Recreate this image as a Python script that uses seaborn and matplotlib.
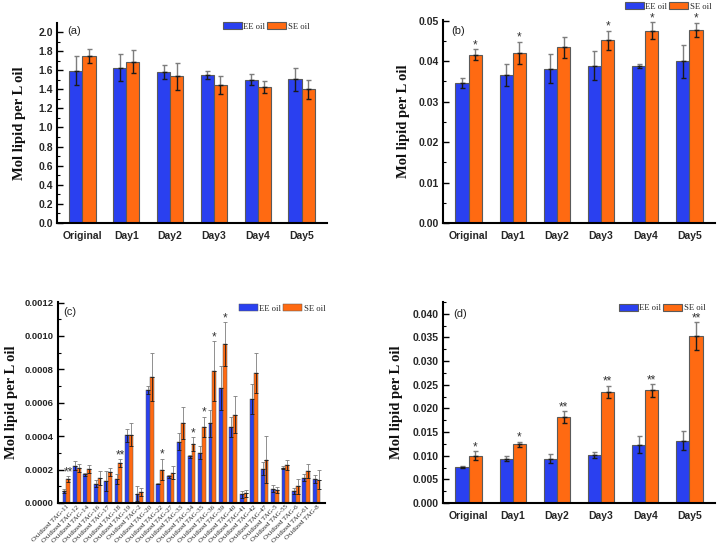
import numpy as np
import pandas as pd
import matplotlib
matplotlib.use("Agg")
import matplotlib.pyplot as plt
import seaborn as sns
from matplotlib.ticker import MultipleLocator, FormatStrFormatter

# ---------------- data ----------------
days = ["Original", "Day1", "Day2", "Day3", "Day4", "Day5"]
series = ["EE oil", "SE oil"]

a_ee = [1.595, 1.627, 1.585, 1.550, 1.501, 1.504]
a_ee_err = [0.150, 0.138, 0.073, 0.042, 0.056, 0.119]
a_se = [1.749, 1.689, 1.536, 1.445, 1.424, 1.400]
a_se_err = [0.077, 0.122, 0.143, 0.098, 0.063, 0.100]
a_marks = ["", "", "", "", "", ""]

b_ee = [0.0346, 0.0366, 0.0381, 0.0389, 0.0389, 0.0400]
b_ee_err = [0.0012, 0.0028, 0.0036, 0.0036, 0.0005, 0.0041]
b_se = [0.0416, 0.0421, 0.0434, 0.0452, 0.0475, 0.0478]
b_se_err = [0.0014, 0.0027, 0.0025, 0.0024, 0.0021, 0.0017]
b_marks = ["*", "*", "", "*", "*", "*"]

c_tags = ["Oxidized TAG-11", "Oxidized TAG-12", "Oxidized TAG-14", "Oxidized TAG-16",
          "Oxidized TAG-17", "Oxidized TAG-18", "Oxidized TAG-19", "Oxidized TAG-2",
          "Oxidized TAG-20", "Oxidized TAG-22", "Oxidized TAG-27", "Oxidized TAG-33",
          "Oxidized TAG-34", "Oxidized TAG-35", "Oxidized TAG-36", "Oxidized TAG-39",
          "Oxidized TAG-40", "Oxidized TAG-41", "Oxidized TAG-42", "Oxidized TAG-47",
          "Oxidized TAG-5", "Oxidized TAG-55", "Oxidized TAG-6", "Oxidized TAG-61",
          "Oxidized TAG-8"]
c_ee = [0.000072, 0.000224, 0.000172, 0.000116, 0.000132, 0.000142, 0.000404, 0.000054,
        0.000678, 0.000116, 0.000160, 0.000366, 0.000280, 0.000302, 0.000476, 0.000688,
        0.000456, 0.000052, 0.000624, 0.000206, 0.000086, 0.000212, 0.000072, 0.000152,
        0.000144]
c_ee_err = [0.000014, 0.000028, 0.000010, 0.000020, 0.000060, 0.000030, 0.000040, 0.000045,
            0.000025, 0.000005, 0.000010, 0.000050, 0.000008, 0.000040, 0.000080, 0.000130,
            0.000060, 0.000020, 0.000090, 0.000040, 0.000020, 0.000010, 0.000020, 0.000020,
            0.000022]
c_se = [0.000144, 0.000208, 0.000204, 0.000148, 0.000186, 0.000238, 0.000408, 0.000064,
        0.000754, 0.000200, 0.000182, 0.000480, 0.000354, 0.000456, 0.000788, 0.000952,
        0.000528, 0.000058, 0.000778, 0.000260, 0.000078, 0.000230, 0.000100, 0.000192,
        0.000140]
c_se_err = [0.000016, 0.000025, 0.000025, 0.000043, 0.000025, 0.000025, 0.000068, 0.000025,
            0.000145, 0.000065, 0.000040, 0.000094, 0.000040, 0.000060, 0.000180, 0.000130,
            0.000110, 0.000020, 0.000120, 0.000140, 0.000018, 0.000030, 0.000045, 0.000040,
            0.000055]
c_marks = ["**", "", "", "", "", "**", "", "", "", "*", "", "", "*", "*", "*", "*",
           "", "", "", "", "", "", "", "", ""]

d_ee = [0.0076, 0.0094, 0.0094, 0.0102, 0.0123, 0.0132]
d_ee_err = [0.0003, 0.0006, 0.0010, 0.0006, 0.0018, 0.0020]
d_se = [0.0100, 0.0124, 0.0182, 0.0235, 0.0238, 0.0353]
d_se_err = [0.0009, 0.0006, 0.0012, 0.0013, 0.0013, 0.0029]
d_marks = ["*", "*", "**", "**", "**", "**"]

# ---------------- style ----------------
BLUE = "#2a40f0"
ORANGE = "#ff6a12"
EDGE = "#5a5a5a"
W, H = 717, 545

sns.set_theme(style="white")
plt.rcParams["font.family"] = ["Liberation Sans", "DejaVu Sans"]

fig = plt.figure(figsize=(W / 100, H / 100), dpi=100)


def box(l, t, r, b):
    return [l / W, 1 - b / H, (r - l) / W, (b - t) / H]


def draw(ax, cats, ee, ee_err, se, se_err, marks, width, ylim, major, minor, fmt,
         panel, panel_xy, leg_xy, ylab_x, xlim=None, rot=False, ticksize=7.5):
    n = len(cats)
    df = pd.DataFrame({"cat": list(cats) * 2,
                       "oil": [series[0]] * n + [series[1]] * n,
                       "val": list(ee) + list(se)})
    sns.barplot(data=df, x="cat", y="val", hue="oil", hue_order=series,
                palette=[BLUE, ORANGE], width=width,
                edgecolor=EDGE, linewidth=0.8 if not rot else 0.35,
                errorbar=None, saturation=1, ax=ax)
    handles, labels = ax.get_legend_handles_labels()
    if ax.get_legend() is not None:
        ax.get_legend().remove()
    errs = [ee_err, se_err]
    se_tops = []
    lw = 1.0 if not rot else 0.6
    cap = 1.8 if not rot else 1.1
    for k, cont in enumerate(ax.containers[:2]):
        xs = np.array([p.get_x() + p.get_width() / 2 for p in cont.patches])
        hs = np.array([p.get_height() for p in cont.patches])
        e = np.array(errs[k])
        z = np.zeros_like(e)
        ax.errorbar(xs, hs, yerr=[z, e], fmt="none", ecolor="#7d7d7d",
                    elinewidth=lw, capsize=cap, capthick=lw, zorder=4)
        ax.errorbar(xs, hs, yerr=[e, z], fmt="none", ecolor="#1a1a1a",
                    elinewidth=lw, capsize=cap, capthick=lw, zorder=4)
        if k == 1:
            se_tops = list(zip(xs, hs + e))
    for (x, top), m in zip(se_tops, marks):
        if m:
            ax.annotate(m, (x, top), xytext=(0, -1.5), textcoords="offset points",
                        ha="center", va="bottom", fontsize=8.5,
                        color="#333333")
    ax.set_ylim(*ylim)
    if xlim is not None:
        ax.set_xlim(*xlim)
    ax.yaxis.set_major_locator(MultipleLocator(major))
    ax.yaxis.set_minor_locator(MultipleLocator(minor))
    ax.yaxis.set_major_formatter(FormatStrFormatter(fmt))
    ax.set_xlabel("")
    ax.set_ylabel("")
    for s in ["top", "right"]:
        ax.spines[s].set_visible(False)
    for s in ["left", "bottom"]:
        ax.spines[s].set_color("black")
        ax.spines[s].set_linewidth(1.5)
    ax.tick_params(axis="y", which="major", direction="in", length=4, width=1,
                   color="black", left=True, labelsize=ticksize, pad=3)
    ax.tick_params(axis="y", which="minor", direction="in", length=2, width=0.8,
                   color="black", left=True)
    ax.tick_params(axis="x", length=0)
    for t in ax.get_yticklabels():
        t.set_fontweight("bold")
    if rot:
        ax.tick_params(axis="x", pad=1)
        ax.set_xticks(range(n))
        ax.set_xticklabels(cats, rotation=45, ha="right", va="top",
                           rotation_mode="anchor", fontsize=5, family="Liberation Serif")
    else:
        ax.tick_params(axis="x", labelsize=7.5, pad=6)
        for t in ax.get_xticklabels():
            t.set_fontweight("bold")
    fig.text(panel_xy[0] / W, 1 - panel_xy[1] / H, panel, fontsize=8,
             ha="left", va="center", color="#222222")
    pos = ax.get_position()
    fig.text(ylab_x / W, (pos.y0 + pos.y1) / 2, "Mol lipid per L oil", rotation=90,
             ha="center", va="center", fontsize=10.5, fontweight="bold",
             family="Liberation Serif", color="#111111")
    fig.legend(handles, labels, loc="center left",
               bbox_to_anchor=(leg_xy[0] / W, 1 - leg_xy[1] / H), ncol=2,
               frameon=False, borderpad=0, borderaxespad=0, handlelength=2.2,
               handleheight=0.85, handletextpad=0.15, columnspacing=0.25,
               prop={"family": "Liberation Serif", "size": 6.2})


ax_a = fig.add_axes(box(57, 23, 327, 223))
draw(ax_a, days, a_ee, a_ee_err, a_se, a_se_err, a_marks, 0.6, (0, 2.094), 0.2, 0.1,
     "%.1f", "(a)", (67, 31), (223, 26.5), 20)

ax_b = fig.add_axes(box(443, 20, 715, 223))
draw(ax_b, days, b_ee, b_ee_err, b_se, b_se_err, b_marks, 0.6, (0, 0.0502), 0.01, 0.005,
     "%.2f", "(b)", (451, 31), (625, 6.5), 403)

ax_c = fig.add_axes(box(58, 302, 325, 503))
draw(ax_c, c_tags, c_ee, c_ee_err, c_se, c_se_err, c_marks, 0.72, (0, 0.001203), 0.0002,
     0.0001, "%.4f", "(c)", (63, 312), (239, 308.5), 12, xlim=(-0.8, 24.8), rot=True,
     ticksize=6.8)

ax_d = fig.add_axes(box(443, 302, 715, 503))
draw(ax_d, days, d_ee, d_ee_err, d_se, d_se_err, d_marks, 0.6, (0, 0.0425), 0.005, 0.0025,
     "%.3f", "(d)", (453, 314), (619, 308), 397)

fig.savefig("out.png", dpi=100, facecolor="white")
